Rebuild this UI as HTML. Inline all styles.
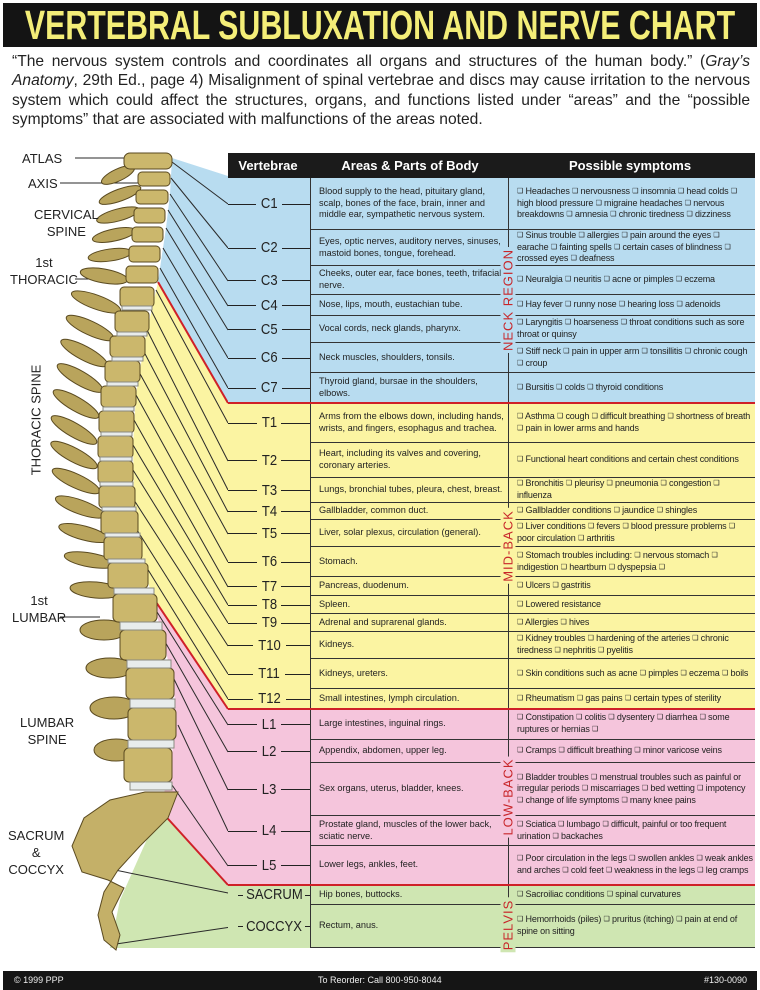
<!DOCTYPE html>
<html><head><meta charset="utf-8">
<style>
*{margin:0;padding:0;box-sizing:border-box}
body{width:760px;height:990px;background:#fff;position:relative;overflow:hidden;font-family:"Liberation Sans",sans-serif;color:#222}
.title{position:absolute;left:3px;top:3px;width:754px;height:44px;background:#141414;overflow:hidden}
.title span{position:absolute;left:377px;top:0;transform:translateX(-50%) scaleX(0.74);white-space:nowrap;color:#f4ee78;font-weight:bold;font-size:41px;line-height:44px}
.intro{position:absolute;left:12px;top:52px;width:738px;font-size:15.6px;line-height:19.3px;text-align:justify;color:#222}
.hdr{position:absolute;left:228px;top:153px;width:527px;height:25px;background:#1b1b1b;color:#fff;font-weight:bold;font-size:13px;line-height:25px}
.hdr span{position:absolute;top:0;transform:translateX(-50%);white-space:nowrap}
.r{position:absolute;left:228px;width:527px;display:flex}
.v{width:82px;display:flex;align-items:center;font-size:14.5px;color:#222}
.v i{flex:1;height:1px;background:#222}
.v b{font-weight:normal;padding:0 4px;display:inline-block;transform:scaleX(0.9)}
.a{width:198px;border-left:1px solid #333;border-bottom:1px solid #333;font-size:9.2px;line-height:11.6px;padding:0 3px 0 8px;display:flex;align-items:center}
.s{width:247px;border-left:1px solid #333;border-bottom:1px solid #333;font-size:9px;line-height:11.6px;padding:0 2px 0 8px;display:flex;align-items:center;letter-spacing:-0.15px}
.s em{font-style:normal;font-size:7px;vertical-align:1px}
.red{position:absolute;left:228px;width:527px;height:2px;background:#cf2028}
.reg{position:absolute;left:508px;transform:translate(-50%,-50%) rotate(-90deg);color:#c8262a;font-size:13px;letter-spacing:1px;white-space:nowrap;padding:0 2px}
.lab{position:absolute;font-size:13px;color:#222;text-align:center;line-height:17px}
.foot{position:absolute;left:3px;top:971px;width:754px;height:19px;background:#151515;color:#eee;font-size:9px;line-height:19px}
.foot span{position:absolute;top:0}
</style></head><body>
<div class="title"><span>VERTEBRAL SUBLUXATION AND NERVE CHART</span></div>
<div class="intro">“The nervous system controls and coordinates all organs and structures of the human body.” (<i>Gray’s Anatomy</i>, 29th Ed., page 4) Misalignment of spinal vertebrae and discs may cause irritation to the nervous system which could affect the structures, organs, and functions listed under “areas” and the “possible symptoms” that are associated with malfunctions of the areas noted.</div>

<svg style="position:absolute;left:0;top:0" width="760" height="990">
<polygon points="172,158 228,176 228,403 158,282 163,248 166,228 170,194" fill="#b8dcf0"/>
<polygon points="158,282 228,403 228,709 152,596 142,560 134,500 133,445 136,395 145,340" fill="#fbf4a2"/>
<polygon points="152,596 228,709 228,885 160,810 172,760 175,700 166,650" fill="#f5c5dc"/>
<polygon points="160,810 228,885 228,948 110,948 120,900" fill="#cfe6b2"/>
<polyline points="158,282 228,403" stroke="#cf2028" stroke-width="2" fill="none"/>
<polyline points="152,596 228,709" stroke="#cf2028" stroke-width="2" fill="none"/>
<polyline points="160,810 228,885" stroke="#cf2028" stroke-width="2" fill="none"/>
<g stroke="#2a2a2a" stroke-width="1" fill="none">
<line x1="172" y1="162" x2="228" y2="204"/>
<line x1="171" y1="178" x2="228" y2="248"/>
<line x1="170" y1="194" x2="228" y2="281"/>
<line x1="168" y1="210" x2="228" y2="306"/>
<line x1="166" y1="228" x2="228" y2="330"/>
<line x1="163" y1="248" x2="228" y2="358"/>
<line x1="160" y1="268" x2="228" y2="388"/>
<line x1="156" y1="290" x2="228" y2="423"/>
<line x1="151" y1="310" x2="228" y2="461"/>
<line x1="147" y1="330" x2="228" y2="490"/>
<line x1="143" y1="350" x2="228" y2="512"/>
<line x1="139" y1="372" x2="228" y2="534"/>
<line x1="136" y1="395" x2="228" y2="562"/>
<line x1="134" y1="420" x2="228" y2="587"/>
<line x1="133" y1="445" x2="228" y2="605"/>
<line x1="133" y1="470" x2="228" y2="623"/>
<line x1="134" y1="500" x2="228" y2="646"/>
<line x1="137" y1="530" x2="228" y2="674"/>
<line x1="142" y1="560" x2="228" y2="699"/>
<line x1="157" y1="612" x2="228" y2="725"/>
<line x1="164" y1="640" x2="228" y2="752"/>
<line x1="172" y1="675" x2="228" y2="790"/>
<line x1="178" y1="725" x2="228" y2="831"/>
<line x1="172" y1="785" x2="228" y2="866"/>
<line x1="105" y1="868" x2="238" y2="895"/>
<line x1="116" y1="944" x2="238" y2="926"/>
<line x1="75" y1="158" x2="150" y2="158"/>
<line x1="60" y1="183" x2="148" y2="183"/>
<line x1="75" y1="279" x2="150" y2="279"/>
<line x1="60" y1="617" x2="100" y2="617"/>
</g>
<g id="spine" stroke="#5a4a20" stroke-width="1">
<polygon points="178,792 168,818 140,846 118,870 104,892 98,915 104,940 116,950 120,935 112,912 124,888 108,880 82,872 72,846 84,818 110,800 145,792" fill="#c4b068"/>
<g fill="#b9a45c">
<ellipse cx="118" cy="175" rx="18" ry="6" transform="rotate(-25 118 175)"/>
<ellipse cx="120" cy="195" rx="22" ry="6" transform="rotate(-20 120 195)"/>
<ellipse cx="118" cy="215" rx="22" ry="6" transform="rotate(-15 118 215)"/>
<ellipse cx="114" cy="235" rx="22" ry="6" transform="rotate(-12 114 235)"/>
<ellipse cx="110" cy="255" rx="22" ry="6" transform="rotate(-8 110 255)"/>
<ellipse cx="104" cy="276" rx="24" ry="7" transform="rotate(10 104 276)"/>
<ellipse cx="96" cy="302" rx="26" ry="7" transform="rotate(20 96 302)"/>
<ellipse cx="90" cy="328" rx="26" ry="7" transform="rotate(25 90 328)"/>
<ellipse cx="84" cy="353" rx="26" ry="7" transform="rotate(28 84 353)"/>
<ellipse cx="80" cy="378" rx="26" ry="7" transform="rotate(30 80 378)"/>
<ellipse cx="76" cy="404" rx="26" ry="7" transform="rotate(30 76 404)"/>
<ellipse cx="74" cy="430" rx="26" ry="7" transform="rotate(30 74 430)"/>
<ellipse cx="74" cy="455" rx="26" ry="7" transform="rotate(28 74 455)"/>
<ellipse cx="76" cy="481" rx="26" ry="7" transform="rotate(25 76 481)"/>
<ellipse cx="80" cy="507" rx="26" ry="7" transform="rotate(20 80 507)"/>
<ellipse cx="84" cy="533" rx="26" ry="7" transform="rotate(15 84 533)"/>
<ellipse cx="90" cy="560" rx="26" ry="7" transform="rotate(10 90 560)"/>
<ellipse cx="96" cy="590" rx="26" ry="8" transform="rotate(5 96 590)"/>
<ellipse cx="104" cy="630" rx="24" ry="10"/>
<ellipse cx="110" cy="668" rx="24" ry="10"/>
<ellipse cx="114" cy="708" rx="24" ry="11"/>
<ellipse cx="116" cy="750" rx="22" ry="11"/>
</g>
<g fill="#cbb76c">
<rect x="124" y="153" width="48" height="16" rx="6"/>
<rect x="138" y="172" width="32" height="14" rx="4"/>
<rect x="136" y="190" width="32" height="14" rx="4"/>
<rect x="134" y="208" width="31" height="15" rx="4"/>
<rect x="132" y="227" width="31" height="15" rx="4"/>
<rect x="129" y="246" width="31" height="16" rx="4"/>
<rect x="126" y="266" width="32" height="17" rx="4"/>
<rect x="120" y="287" width="34" height="20" rx="4"/>
<rect x="115" y="311" width="34" height="21" rx="4"/>
<rect x="110" y="336" width="35" height="21" rx="4"/>
<rect x="105" y="361" width="35" height="21" rx="4"/>
<rect x="101" y="386" width="35" height="21" rx="4"/>
<rect x="99" y="411" width="35" height="22" rx="4"/>
<rect x="98" y="436" width="35" height="22" rx="4"/>
<rect x="98" y="461" width="35" height="22" rx="4"/>
<rect x="99" y="486" width="36" height="22" rx="4"/>
<rect x="101" y="511" width="37" height="23" rx="4"/>
<rect x="104" y="537" width="38" height="23" rx="4"/>
<rect x="108" y="563" width="40" height="25" rx="4"/>
<rect x="113" y="594" width="44" height="28" rx="5"/>
<rect x="120" y="630" width="46" height="30" rx="5"/>
<rect x="126" y="668" width="48" height="31" rx="5"/>
<rect x="128" y="708" width="48" height="32" rx="5"/>
<rect x="124" y="748" width="48" height="34" rx="5"/>
</g>
<g fill="#e8ecec" stroke="#8a8a80">
<rect x="122" y="306" width="30" height="4"/>
<rect x="117" y="332" width="30" height="4"/>
<rect x="112" y="357" width="31" height="4"/>
<rect x="107" y="382" width="31" height="4"/>
<rect x="103" y="407" width="31" height="4"/>
<rect x="101" y="432" width="31" height="4"/>
<rect x="100" y="457" width="32" height="4"/>
<rect x="100" y="482" width="33" height="4"/>
<rect x="102" y="507" width="34" height="4"/>
<rect x="105" y="533" width="35" height="4"/>
<rect x="108" y="559" width="37" height="4"/>
<rect x="114" y="588" width="40" height="6"/>
<rect x="120" y="622" width="42" height="8"/>
<rect x="127" y="660" width="44" height="8"/>
<rect x="130" y="699" width="45" height="9"/>
<rect x="128" y="740" width="46" height="8"/>
<rect x="130" y="782" width="42" height="8"/>
</g>
</g>
</svg>

<div class="lab" style="left:22px;top:150px">ATLAS</div>
<div class="lab" style="left:28px;top:175px">AXIS</div>
<div class="lab" style="left:34px;top:206px">CERVICAL<br>SPINE</div>
<div class="lab" style="left:10px;top:254px">1st<br>THORACIC</div>
<div class="lab" style="top:420px;transform:translate(-50%,-50%) rotate(-90deg);white-space:nowrap;left:36px">THORACIC SPINE</div>
<div class="lab" style="left:12px;top:592px">1st<br>LUMBAR</div>
<div class="lab" style="left:20px;top:714px">LUMBAR<br>SPINE</div>
<div class="lab" style="left:8px;top:827px">SACRUM<br>&amp;<br>COCCYX</div>

<div class="hdr"><span style="left:40px">Vertebrae</span><span style="left:182px">Areas &amp; Parts of Body</span><span style="left:402px">Possible symptoms</span></div>

<div class="r" style="top:178px;height:52px;background:#b8dcf0"><div class="v"><i></i><b>C1</b><i></i></div><div class="a">Blood supply to the head, pituitary gland, scalp, bones of the face, brain, inner and middle ear, sympathetic nervous system.</div><div class="s"><span><em>❑</em> Headaches <em>❑</em> nervousness <em>❑</em> insomnia <em>❑</em> head colds <em>❑</em> high blood pressure <em>❑</em> migraine headaches <em>❑</em> nervous breakdowns <em>❑</em> amnesia <em>❑</em> chronic tiredness <em>❑</em> dizziness</span></div></div>
<div class="r" style="top:230px;height:36px;background:#b8dcf0"><div class="v"><i></i><b>C2</b><i></i></div><div class="a">Eyes, optic nerves, auditory nerves, sinuses, mastoid bones, tongue, forehead.</div><div class="s"><span><em>❑</em> Sinus trouble <em>❑</em> allergies <em>❑</em> pain around the eyes <em>❑</em> earache <em>❑</em> fainting spells <em>❑</em> certain cases of blindness <em>❑</em> crossed eyes <em>❑</em> deafness</span></div></div>
<div class="r" style="top:266px;height:29px;background:#b8dcf0"><div class="v"><i></i><b>C3</b><i></i></div><div class="a">Cheeks, outer ear, face bones, teeth, trifacial nerve.</div><div class="s"><span><em>❑</em> Neuralgia <em>❑</em> neuritis <em>❑</em> acne or pimples <em>❑</em> eczema</span></div></div>
<div class="r" style="top:295px;height:21px;background:#b8dcf0"><div class="v"><i></i><b>C4</b><i></i></div><div class="a">Nose, lips, mouth, eustachian tube.</div><div class="s"><span><em>❑</em> Hay fever <em>❑</em> runny nose <em>❑</em> hearing loss <em>❑</em> adenoids</span></div></div>
<div class="r" style="top:316px;height:27px;background:#b8dcf0"><div class="v"><i></i><b>C5</b><i></i></div><div class="a">Vocal cords, neck glands, pharynx.</div><div class="s"><span><em>❑</em> Laryngitis <em>❑</em> hoarseness <em>❑</em> throat conditions such as sore throat or quinsy</span></div></div>
<div class="r" style="top:343px;height:30px;background:#b8dcf0"><div class="v"><i></i><b>C6</b><i></i></div><div class="a">Neck muscles, shoulders, tonsils.</div><div class="s"><span><em>❑</em> Stiff neck <em>❑</em> pain in upper arm <em>❑</em> tonsillitis <em>❑</em> chronic cough <em>❑</em> croup</span></div></div>
<div class="r" style="top:373px;height:30px;background:#b8dcf0"><div class="v"><i></i><b>C7</b><i></i></div><div class="a">Thyroid gland, bursae in the shoulders, elbows.</div><div class="s"><span><em>❑</em> Bursitis <em>❑</em> colds <em>❑</em> thyroid conditions</span></div></div>

<div class="r" style="top:403px;height:40px;background:#fbf4a2"><div class="v"><i></i><b>T1</b><i></i></div><div class="a">Arms from the elbows down, including hands, wrists, and fingers, esophagus and trachea.</div><div class="s"><span><em>❑</em> Asthma <em>❑</em> cough <em>❑</em> difficult breathing <em>❑</em> shortness of breath <em>❑</em> pain in lower arms and hands</span></div></div>
<div class="r" style="top:443px;height:35px;background:#fbf4a2"><div class="v"><i></i><b>T2</b><i></i></div><div class="a">Heart, including its valves and covering, coronary arteries.</div><div class="s"><span><em>❑</em> Functional heart conditions and certain chest conditions</span></div></div>
<div class="r" style="top:478px;height:25px;background:#fbf4a2"><div class="v"><i></i><b>T3</b><i></i></div><div class="a">Lungs, bronchial tubes, pleura, chest, breast.</div><div class="s"><span><em>❑</em> Bronchitis <em>❑</em> pleurisy <em>❑</em> pneumonia <em>❑</em> congestion <em>❑</em> influenza</span></div></div>
<div class="r" style="top:503px;height:17px;background:#fbf4a2"><div class="v"><i></i><b>T4</b><i></i></div><div class="a">Gallbladder, common duct.</div><div class="s"><span><em>❑</em> Gallbladder conditions <em>❑</em> jaundice <em>❑</em> shingles</span></div></div>
<div class="r" style="top:520px;height:27px;background:#fbf4a2"><div class="v"><i></i><b>T5</b><i></i></div><div class="a">Liver, solar plexus, circulation (general).</div><div class="s"><span><em>❑</em> Liver conditions <em>❑</em> fevers <em>❑</em> blood pressure problems <em>❑</em> poor circulation <em>❑</em> arthritis</span></div></div>
<div class="r" style="top:547px;height:30px;background:#fbf4a2"><div class="v"><i></i><b>T6</b><i></i></div><div class="a">Stomach.</div><div class="s"><span><em>❑</em> Stomach troubles including: <em>❑</em> nervous stomach <em>❑</em> indigestion <em>❑</em> heartburn <em>❑</em> dyspepsia <em>❑</em></span></div></div>
<div class="r" style="top:577px;height:19px;background:#fbf4a2"><div class="v"><i></i><b>T7</b><i></i></div><div class="a">Pancreas, duodenum.</div><div class="s"><span><em>❑</em> Ulcers <em>❑</em> gastritis</span></div></div>
<div class="r" style="top:596px;height:18px;background:#fbf4a2"><div class="v"><i></i><b>T8</b><i></i></div><div class="a">Spleen.</div><div class="s"><span><em>❑</em> Lowered resistance</span></div></div>
<div class="r" style="top:614px;height:18px;background:#fbf4a2"><div class="v"><i></i><b>T9</b><i></i></div><div class="a">Adrenal and suprarenal glands.</div><div class="s"><span><em>❑</em> Allergies <em>❑</em> hives</span></div></div>
<div class="r" style="top:632px;height:27px;background:#fbf4a2"><div class="v"><i></i><b>T10</b><i></i></div><div class="a">Kidneys.</div><div class="s"><span><em>❑</em> Kidney troubles <em>❑</em> hardening of the arteries <em>❑</em> chronic tiredness <em>❑</em> nephritis <em>❑</em> pyelitis</span></div></div>
<div class="r" style="top:659px;height:30px;background:#fbf4a2"><div class="v"><i></i><b>T11</b><i></i></div><div class="a">Kidneys, ureters.</div><div class="s"><span><em>❑</em> Skin conditions such as acne <em>❑</em> pimples <em>❑</em> eczema <em>❑</em> boils</span></div></div>
<div class="r" style="top:689px;height:20px;background:#fbf4a2"><div class="v"><i></i><b>T12</b><i></i></div><div class="a">Small intestines, lymph circulation.</div><div class="s"><span><em>❑</em> Rheumatism <em>❑</em> gas pains <em>❑</em> certain types of sterility</span></div></div>

<div class="r" style="top:709px;height:31px;background:#f5c5dc"><div class="v"><i></i><b>L1</b><i></i></div><div class="a">Large intestines, inguinal rings.</div><div class="s"><span><em>❑</em> Constipation <em>❑</em> colitis <em>❑</em> dysentery <em>❑</em> diarrhea <em>❑</em> some ruptures or hernias <em>❑</em></span></div></div>
<div class="r" style="top:740px;height:23px;background:#f5c5dc"><div class="v"><i></i><b>L2</b><i></i></div><div class="a">Appendix, abdomen, upper leg.</div><div class="s"><span><em>❑</em> Cramps <em>❑</em> difficult breathing <em>❑</em> minor varicose veins</span></div></div>
<div class="r" style="top:763px;height:53px;background:#f5c5dc"><div class="v"><i></i><b>L3</b><i></i></div><div class="a">Sex organs, uterus, bladder, knees.</div><div class="s"><span><em>❑</em> Bladder troubles <em>❑</em> menstrual troubles such as painful or irregular periods <em>❑</em> miscarriages <em>❑</em> bed wetting <em>❑</em> impotency <em>❑</em> change of life symptoms <em>❑</em> many knee pains</span></div></div>
<div class="r" style="top:816px;height:30px;background:#f5c5dc"><div class="v"><i></i><b>L4</b><i></i></div><div class="a">Prostate gland, muscles of the lower back, sciatic nerve.</div><div class="s"><span><em>❑</em> Sciatica <em>❑</em> lumbago <em>❑</em> difficult, painful or too frequent urination <em>❑</em> backaches</span></div></div>
<div class="r" style="top:846px;height:39px;background:#f5c5dc"><div class="v"><i></i><b>L5</b><i></i></div><div class="a">Lower legs, ankles, feet.</div><div class="s"><span><em>❑</em> Poor circulation in the legs <em>❑</em> swollen ankles <em>❑</em> weak ankles and arches <em>❑</em> cold feet <em>❑</em> weakness in the legs <em>❑</em> leg cramps</span></div></div>

<div class="r" style="top:885px;height:20px;background:#cfe6b2"><div class="v" style="padding-left:10px"><i></i><b style="padding:0">SACRUM</b><i></i></div><div class="a">Hip bones, buttocks.</div><div class="s"><span><em>❑</em> Sacroiliac conditions <em>❑</em> spinal curvatures</span></div></div>
<div class="r" style="top:905px;height:43px;background:#cfe6b2"><div class="v" style="padding-left:10px"><i></i><b style="padding:0">COCCYX</b><i></i></div><div class="a">Rectum, anus.</div><div class="s"><span><em>❑</em> Hemorrhoids (piles) <em>❑</em> pruritus (itching) <em>❑</em> pain at end of spine on sitting</span></div></div>

<div class="red" style="top:402px"></div>
<div class="red" style="top:708px"></div>
<div class="red" style="top:884px"></div>

<div class="reg" style="top:300px;background:#b8dcf0">NECK REGION</div>
<div class="reg" style="top:546px;background:#fbf4a2">MID-BACK</div>
<div class="reg" style="top:797px;background:#f5c5dc">LOW-BACK</div>
<div class="reg" style="top:925px;background:#cfe6b2">PELVIS</div>

<div class="foot"><span style="left:11px">© 1999 PPP</span><span style="left:315px">To Reorder: Call 800-950-8044</span><span style="right:10px">#130-0090</span></div>
</body></html>
